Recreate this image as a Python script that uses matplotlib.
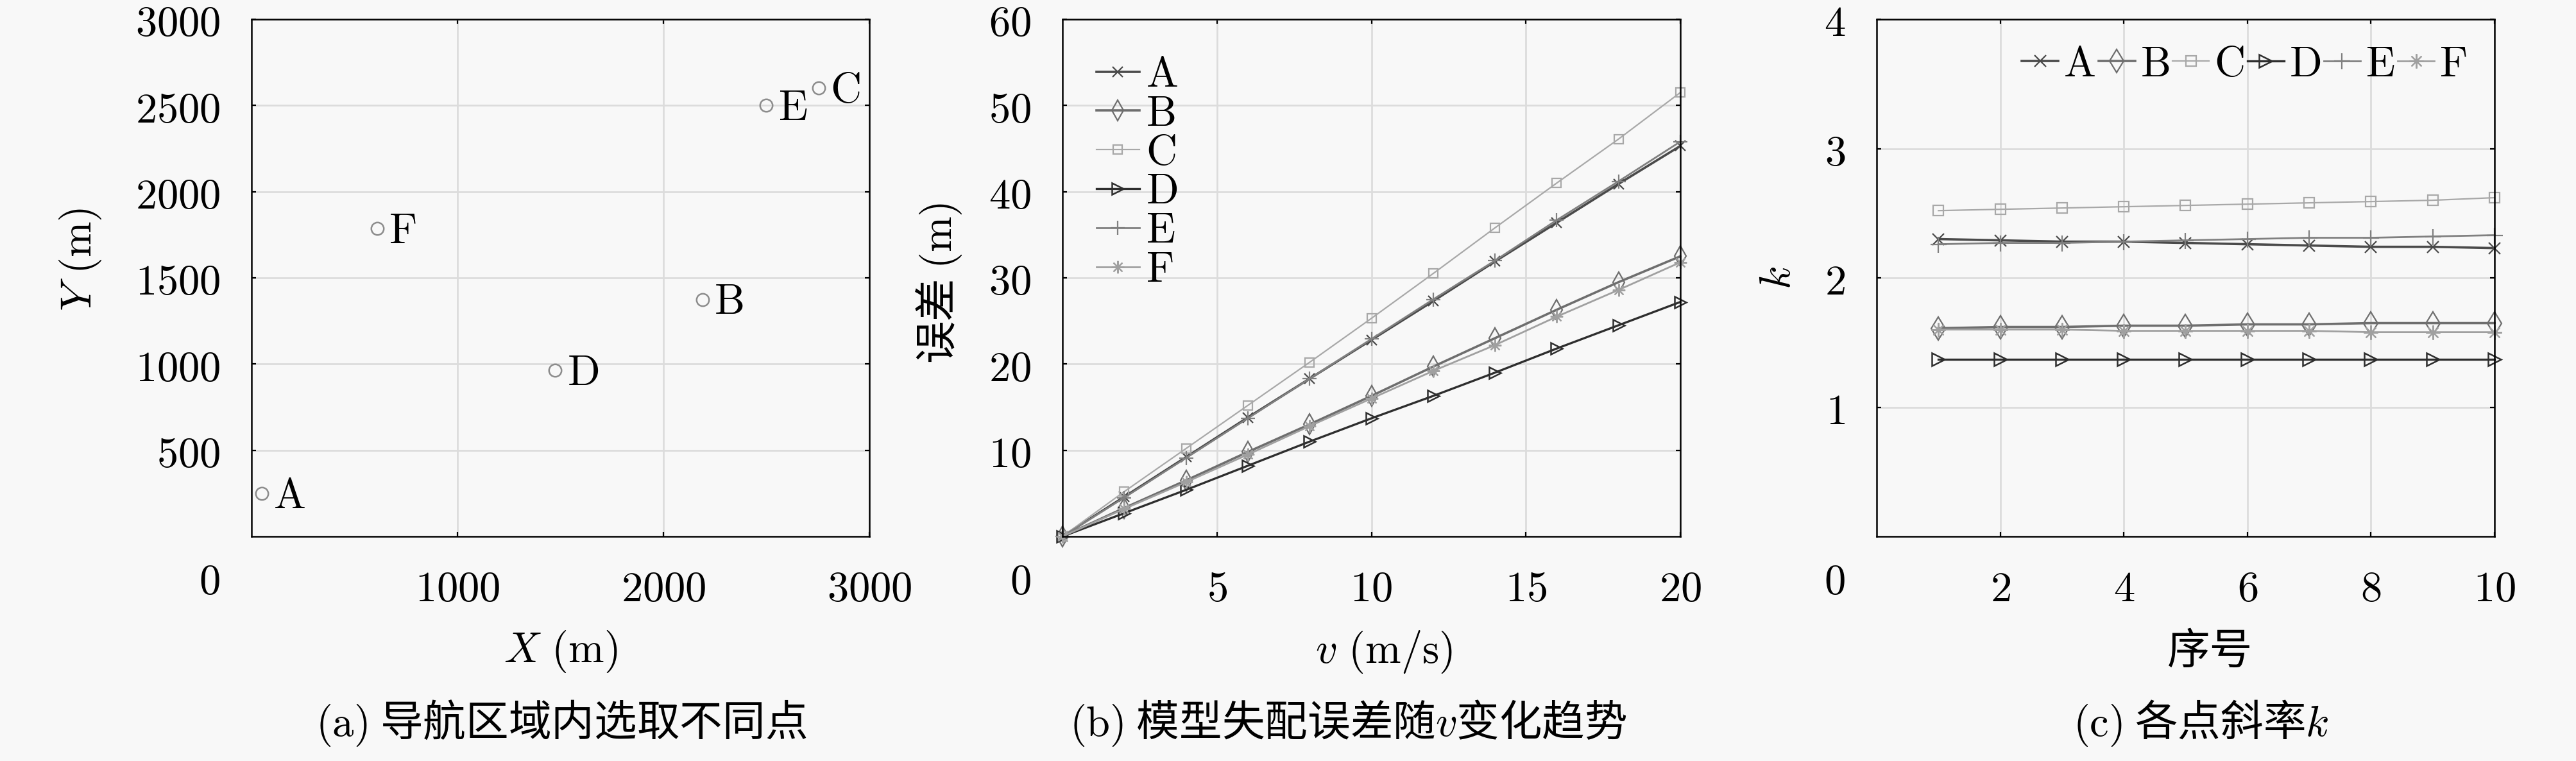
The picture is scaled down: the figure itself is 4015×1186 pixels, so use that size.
import numpy as np
import matplotlib.pyplot as plt
from matplotlib.ticker import FuncFormatter

plt.rcParams['font.family'] = ['Noto Sans CJK SC', 'DejaVu Sans']
plt.rcParams['mathtext.fontset'] = 'cm'
plt.rcParams['axes.unicode_minus'] = False

# ---- data ----
names = ['A', 'B', 'C', 'D', 'E', 'F']

# (a) selected points in the navigation area
pt_x = [50, 2190, 2755, 1475, 2500, 610]
pt_y = [250, 1375, 2600, 965, 2500, 1785]

# (b) model-mismatch error vs v
v = [0, 2, 4, 6, 8, 10, 12, 14, 16, 18, 20]
err_A = [0, 4.6, 9.2, 13.8, 18.3, 22.8, 27.3, 31.9, 36.4, 40.9, 45.3]
err_B = [0, 3.3, 6.5, 9.8, 13.0, 16.3, 19.7, 23.0, 26.3, 29.5, 32.5]
err_C = [0, 5.2, 10.2, 15.2, 20.2, 25.3, 30.5, 35.8, 41.0, 46.1, 51.5]
err_D = [0, 2.7, 5.4, 8.2, 11.0, 13.7, 16.3, 19.0, 21.8, 24.5, 27.2]
err_E = [0, 4.5, 9.1, 13.7, 18.3, 22.9, 27.5, 32.0, 36.7, 41.2, 45.8]
err_F = [0, 3.2, 6.3, 9.5, 12.8, 16.0, 19.2, 22.2, 25.5, 28.6, 31.8]

# (c) slope k of each point
idx = [1, 2, 3, 4, 5, 6, 7, 8, 9, 10]
k_A = [2.30, 2.29, 2.28, 2.28, 2.27, 2.26, 2.25, 2.24, 2.24, 2.23]
k_B = [1.61, 1.62, 1.62, 1.63, 1.63, 1.64, 1.64, 1.65, 1.65, 1.65]
k_C = [2.52, 2.53, 2.54, 2.55, 2.56, 2.57, 2.58, 2.59, 2.60, 2.62]
k_D = [1.37, 1.37, 1.37, 1.37, 1.37, 1.37, 1.37, 1.37, 1.37, 1.37]
k_E = [2.26, 2.27, 2.27, 2.28, 2.29, 2.30, 2.31, 2.31, 2.32, 2.33]
k_F = [1.60, 1.60, 1.60, 1.59, 1.59, 1.59, 1.59, 1.58, 1.58, 1.58]

# line styles per series
styles = {
    'A': dict(color='#4a4a4a', lw=1.3, marker='x', mew=0.8),
    'B': dict(color='#6e6e6e', lw=1.3, marker='d', mfc='none', mew=0.8),
    'C': dict(color='#a8a8a8', lw=0.8, marker='s', mfc='none', mew=0.8),
    'D': dict(color='#2e2e2e', lw=1.2, marker='>', mfc='none', mew=0.9),
    'E': dict(color='#808080', lw=1.0, marker='+', mew=0.8),
    'F': dict(color='#a0a0a0', lw=1.0, marker=(8, 2, 0), mew=0.8),
}
msize_b = {'A': 6, 'B': 8, 'C': 5, 'D': 6.5, 'E': 8, 'F': 7}
msize_c = {'A': 6.5, 'B': 9, 'C': 6, 'D': 7.5, 'E': 9, 'F': 8}

bg = '#f8f8f8'
fs = 24
fig = plt.figure(figsize=(20.08, 5.93), dpi=200, facecolor=bg)

W, H = 963 / 4016, 806 / 1186
B0 = (1186 - 836) / 1186
lefts = [392 / 4016, 1656 / 4016, 2925 / 4016]
axes = [fig.add_axes([l, B0, W, H]) for l in lefts]

mfmt = FuncFormatter(lambda val, pos: r'$\mathrm{%g}$' % val)


def style_axes(ax, xlim, ylim, xt, yt):
    ax.set_facecolor(bg)
    ax.set_xlim(xlim)
    ax.set_ylim(ylim)
    ax.set_xticks(xt)
    ax.set_yticks(yt)
    ax.xaxis.set_major_formatter(mfmt)
    ax.yaxis.set_major_formatter(mfmt)
    ax.grid(True, color='#dcdcdc', lw=1.0)
    ax.set_axisbelow(True)
    ax.tick_params(direction='in', length=2.5, width=0.8, top=True, right=True,
                   labelsize=fs, pad=17.5)
    for s in ax.spines.values():
        s.set_linewidth(0.9)
    # shared origin label at the corner
    ax.annotate(r'$\mathrm{0}$', xy=(0, 0), xycoords='axes fraction',
                xytext=(-23.5, -25.5), textcoords='offset points',
                ha='center', va='center', fontsize=fs)


# ---- (a) ----
ax = axes[0]
style_axes(ax, [0, 3000], [0, 3000], [1000, 2000, 3000],
           [500, 1000, 1500, 2000, 2500, 3000])
ax.plot(pt_x, pt_y, 'o', ls='none', mfc='none', mec='#8c8c8c', ms=7, mew=0.9)
for n, px, py in zip(names, pt_x, pt_y):
    ax.annotate(r'$\mathrm{%s}$' % n, xy=(px, py), xytext=(6.5, -1.5),
                textcoords='offset points', ha='left', va='center', fontsize=fs)
ax.set_xlabel(r'$X\ \mathrm{(m)}$', fontsize=fs, va='center')
ax.set_ylabel(r'$Y\ \mathrm{(m)}$', fontsize=fs, va='center')
ax.xaxis.set_label_coords(0.5, -0.223)
ax.yaxis.set_label_coords(-0.277, 0.535)

# ---- (b) ----
ax = axes[1]
style_axes(ax, [0, 20], [0, 60], [5, 10, 15, 20], [10, 20, 30, 40, 50, 60])
errs = [err_A, err_B, err_C, err_D, err_E, err_F]
for n, e in zip(names, errs):
    ax.plot(v, e, label=r'$\mathrm{%s}$' % n, ms=msize_b[n], clip_on=False,
            **styles[n])
ax.legend(loc='upper left', bbox_to_anchor=(0.055, 0.935), frameon=False,
          fontsize=fs, handlelength=1.0, handletextpad=0.15, labelspacing=-0.1,
          borderpad=0, borderaxespad=0)
ax.set_xlabel(r'$v\ \mathrm{(m/s)}$', fontsize=fs, va='center')
ax.set_ylabel(r'误差 $\mathrm{(m)}$', fontsize=fs, va='center')
ax.xaxis.set_label_coords(0.52, -0.223)
ax.yaxis.set_label_coords(-0.200, 0.49)

# ---- (c) ----
ax = axes[2]
style_axes(ax, [0, 10], [0, 4], [2, 4, 6, 8, 10], [1, 2, 3, 4])
ks = [k_A, k_B, k_C, k_D, k_E, k_F]
for n, k in zip(names, ks):
    ax.plot(idx, k, label=r'$\mathrm{%s}$' % n, ms=msize_c[n], clip_on=False,
            **styles[n])
ax.legend(loc='upper right', bbox_to_anchor=(0.955, 0.955), frameon=False,
          fontsize=fs, ncol=6, handlelength=0.85, handletextpad=0.12,
          columnspacing=0.08, borderpad=0, borderaxespad=0)
ax.set_xlabel('序号', fontsize=fs, va='center')
ax.set_ylabel(r'$k$', fontsize=fs, va='center')
ax.xaxis.set_label_coords(0.54, -0.223)
ax.yaxis.set_label_coords(-0.160, 0.50)

# ---- captions ----
cy = (1186 - 1127) / 1186
fig.text(875 / 4016, cy, r'$\mathrm{(a)}$ 导航区域内选取不同点', fontsize=fs,
         ha='center', va='center')
fig.text(2101 / 4016, cy, r'$\mathrm{(b)}$ 模型失配误差随$v$变化趋势', fontsize=fs,
         ha='center', va='center')
fig.text(3430 / 4016, cy, r'$\mathrm{(c)}$ 各点斜率$k$', fontsize=fs,
         ha='center', va='center')

fig.savefig('out.png', dpi=200, facecolor=bg)
